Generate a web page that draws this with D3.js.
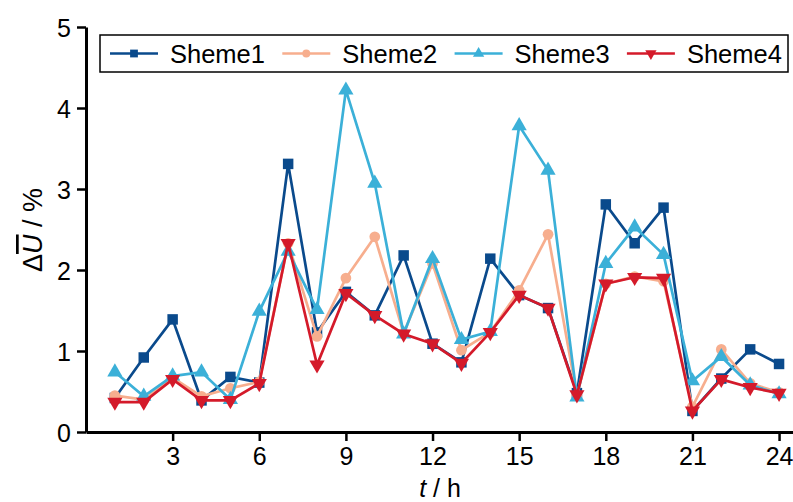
<!DOCTYPE html>
<html><head><meta charset="utf-8">
<script src="https://cdn.jsdelivr.net/npm/d3@7"></script>
<style>body{margin:0;background:#fff}svg{display:block}text{font-family:"Liberation Sans",Arial,sans-serif}</style>
</head><body>
<svg id="c" width="793" height="502"></svg>
<script>
const hours = d3.range(1, 25);
const sheme1 = [0.42,0.92,1.39,0.39,0.68,0.61,3.31,1.23,1.73,1.44,2.18,1.09,0.86,2.14,1.69,1.53,0.48,2.81,2.33,2.77,0.26,0.66,1.02,0.84];
const sheme2 = [0.45,0.40,0.67,0.44,0.54,0.62,2.33,1.18,1.90,2.41,1.22,2.08,1.01,1.23,1.75,2.44,0.45,1.83,1.92,1.86,0.31,1.02,0.60,0.49];
const sheme3 = [0.74,0.44,0.69,0.74,0.40,1.49,2.23,1.51,4.22,3.07,1.21,2.14,1.14,1.24,3.78,3.23,0.43,2.08,2.53,2.19,0.63,0.93,0.58,0.47];
const sheme4 = [0.37,0.37,0.65,0.39,0.39,0.60,2.33,0.83,1.71,1.44,1.21,1.09,0.85,1.23,1.69,1.53,0.46,1.83,1.91,1.90,0.26,0.65,0.55,0.48];
const seriesNames = ["Sheme1","Sheme2","Sheme3","Sheme4"];
const xTicks = [3,6,9,12,15,18,21,24];
const yTicks = [0,1,2,3,4,5];

const series = [
  {name: seriesNames[0], values: sheme1, color: "#0a4a8c", sym: d3.symbolSquare, size: 110, rot: 0},
  {name: seriesNames[1], values: sheme2, color: "#f7ae8e", sym: d3.symbolCircle, size: 90, rot: 0},
  {name: seriesNames[2], values: sheme3, color: "#3bb0d8", sym: d3.symbolTriangle, size: 100, rot: 0},
  {name: seriesNames[3], values: sheme4, color: "#d41a2a", sym: d3.symbolTriangle, size: 100, rot: 180}
];

const svg = d3.select("#c");
const x = d3.scaleLinear().domain([0, 24.5]).range([86, 793.5]);
const y = d3.scaleLinear().domain([0, 5]).range([432, 27]);

// axes
const gx = svg.append("g").attr("transform", "translate(0,432)")
  .call(d3.axisBottom(x).tickValues(xTicks).tickFormat(d3.format("d")).tickSize(9).tickPadding(6).tickSizeOuter(0));
const gy = svg.append("g").attr("transform", "translate(86,0)")
  .call(d3.axisLeft(y).tickValues(yTicks).tickFormat(d3.format("d")).tickSize(9).tickPadding(6).tickSizeOuter(0));
[gx, gy].forEach(g => {
  g.select(".domain").attr("stroke", "#000").attr("stroke-width", 3);
  g.selectAll(".tick line").attr("stroke", "#000").attr("stroke-width", 2.5);
  g.selectAll(".tick text").attr("font-size", 25).attr("fill", "#000")
    .attr("font-family", "'Liberation Sans',Arial,sans-serif");
});
gy.selectAll(".tick text").attr("dy", "0.36em");

// lines
const line = d3.line().x((d, i) => x(hours[i])).y(d => y(d));
series.forEach(s => {
  svg.append("path").datum(s.values).attr("d", line)
    .attr("fill", "none").attr("stroke", s.color).attr("stroke-width", 2.7)
    .attr("stroke-linejoin", "miter");
  svg.append("g").selectAll("path").data(s.values).join("path")
    .attr("d", d3.symbol(s.sym, s.size))
    .attr("transform", (d, i) => `translate(${x(hours[i])},${y(d)}) rotate(${s.rot})`)
    .attr("fill", s.color);
});

// legend
const lg = svg.append("g");
lg.append("rect").attr("x", 100).attr("y", 35).attr("width", 688).attr("height", 37)
  .attr("fill", "#fff").attr("stroke", "#000").attr("stroke-width", 1.5);
series.forEach((s, i) => {
  const x0 = 110 + i * 172.3;
  lg.append("line").attr("x1", x0).attr("x2", x0 + 48).attr("y1", 53.5).attr("y2", 53.5)
    .attr("stroke", s.color).attr("stroke-width", 2.7);
  lg.append("path").attr("d", d3.symbol(s.sym, s.size * 0.55))
    .attr("transform", `translate(${x0 + 24},53.5) rotate(${s.rot})`).attr("fill", s.color);
  lg.append("text").attr("x", x0 + 60).attr("y", 62.5).attr("font-size", 25.5).attr("fill", "#000")
    .text(s.name);
});

// axis titles
const yl = svg.append("text").attr("transform", "translate(42,230) rotate(-90)")
  .attr("text-anchor", "middle").attr("font-size", 27).attr("fill", "#000");
yl.append("tspan").text("Δ");
yl.append("tspan").attr("font-style", "italic").style("text-decoration", "overline").text("U");
yl.append("tspan").text(" / %");

const xl = svg.append("text").attr("x", 440).attr("y", 497)
  .attr("text-anchor", "middle").attr("font-size", 25).attr("fill", "#000");
xl.append("tspan").attr("font-style", "italic").text("t");
xl.append("tspan").text(" / h");
</script>
</body></html>
